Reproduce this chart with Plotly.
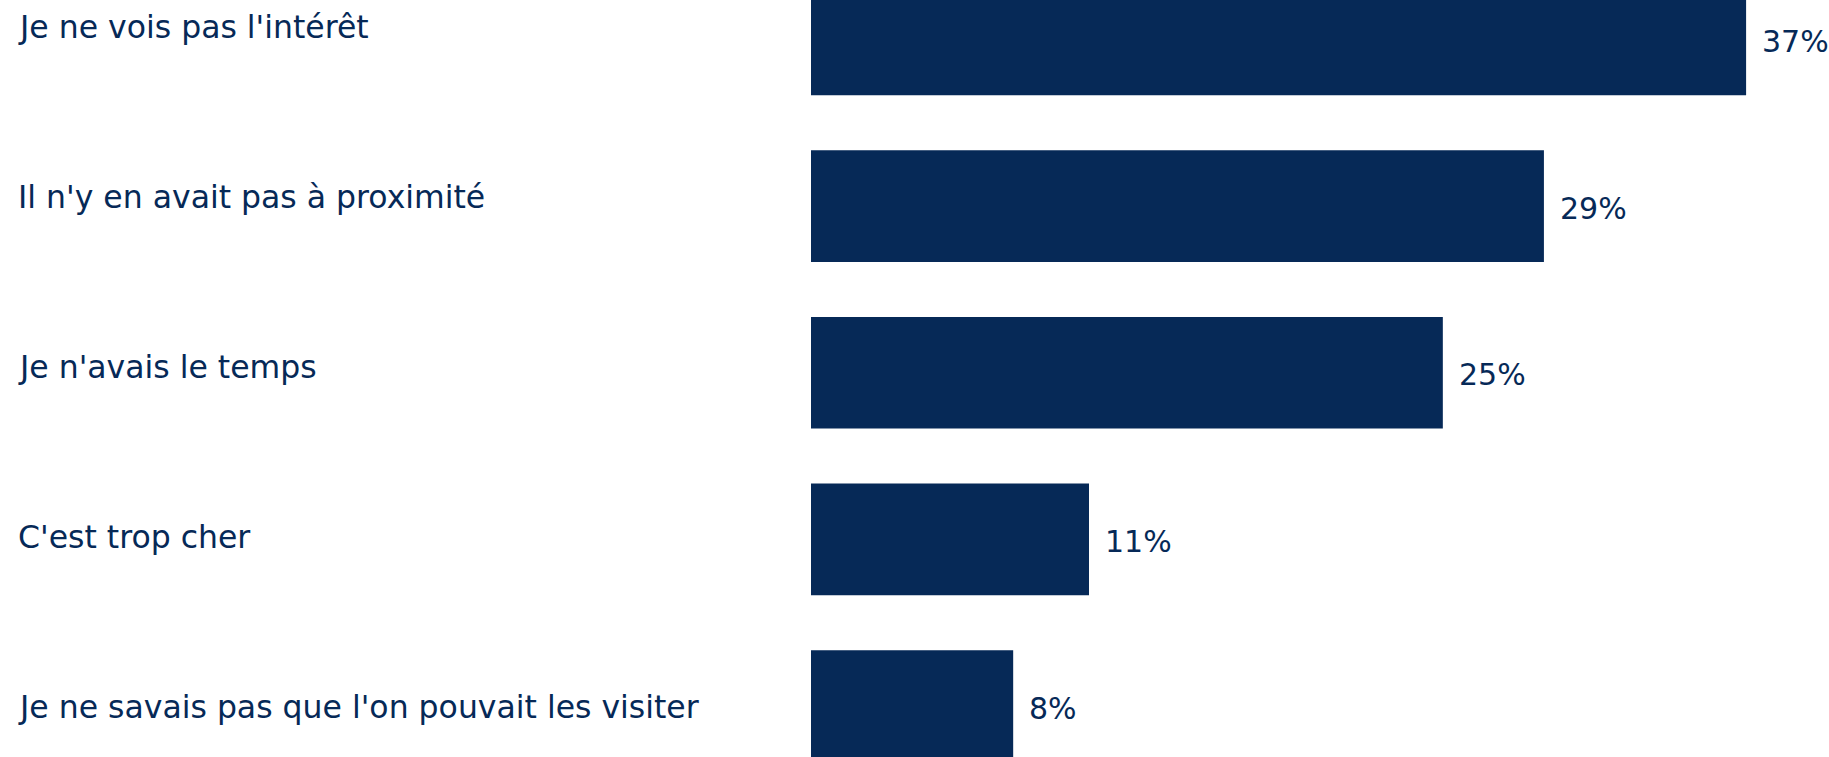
import plotly.graph_objects as go

categories = [
    "Je ne vois pas l'intérêt",
    "Il n'y en avait pas à proximité",
    "Je n'avais le temps",
    "C'est trop cher",
    "Je ne savais pas que l'on pouvait les visiter",
]
values = [37, 29, 25, 11, 8]
value_labels = ["37%", "29%", "25%", "11%", "8%"]

NAVY = "#062957"
FONT = "DejaVu Sans"
FS = 32
W, H = 1829, 757
LEFT = 811

fig = go.Figure()
fig.add_trace(go.Bar(
    x=values, y=categories, orientation="h",
    marker=dict(color=NAVY, line=dict(width=0)),
    width=0.67, hoverinfo="skip", showlegend=False,
))

# value labels to the right of each bar
for c, v, t in zip(categories, values, value_labels):
    fig.add_annotation(x=v, y=c, xref="x", yref="y", text=t, showarrow=False,
                       xanchor="left", yanchor="middle", xshift=14, yshift=-2,
                       font=dict(family=FONT, size=FS - 2, color=NAVY))

# category labels, left aligned at the left of the page
for c in categories:
    fig.add_annotation(x=-(LEFT - 16) / (W - LEFT), y=c, xref="paper", yref="y2",
                       text=c, showarrow=False, xanchor="left", yanchor="middle",
                       font=dict(family=FONT, size=FS - 0.5, color=NAVY))

fig.update_layout(
    width=W, height=H,
    margin=dict(l=LEFT, r=0, t=0, b=0),
    plot_bgcolor="white", paper_bgcolor="white",
    xaxis=dict(range=[0, 40.28], visible=False),
    yaxis=dict(categoryorder="array", categoryarray=categories,
               range=[4.305, -0.236], visible=False),
    yaxis2=dict(overlaying="y", categoryorder="array", categoryarray=categories,
                range=[4.297, -0.156], visible=False, type="category"),
    bargap=0.33,
)
fig.add_trace(go.Scatter(x=[0] * len(categories), y=categories, yaxis="y2",
                         mode="markers", marker=dict(opacity=0), hoverinfo="skip",
                         showlegend=False))

fig.write_html("out.html", config={"displayModeBar": False},
               post_script="document.body.style.margin='0px';")
